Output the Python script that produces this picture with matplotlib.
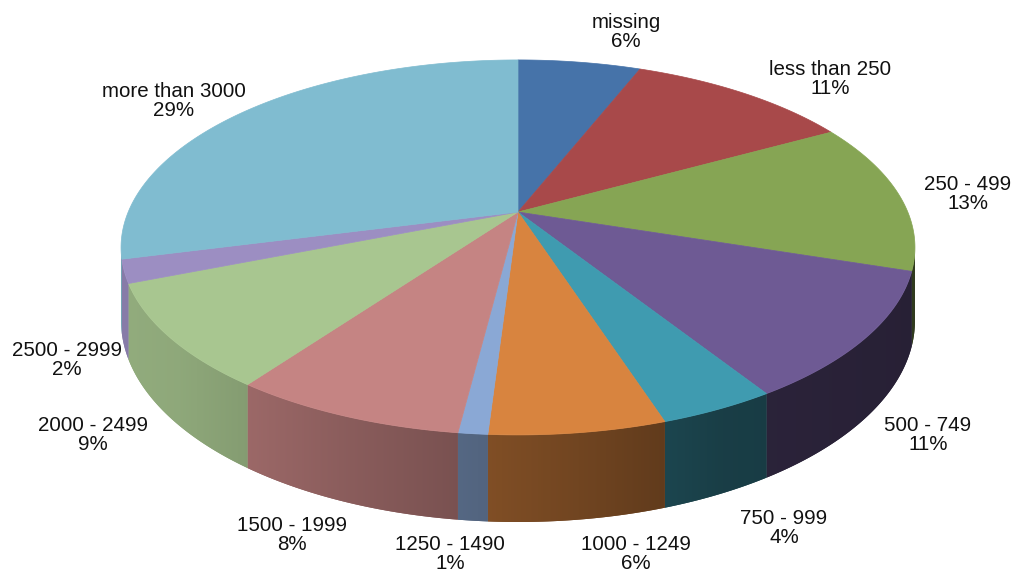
import numpy as np
import matplotlib
matplotlib.use("Agg")
import matplotlib.pyplot as plt
from matplotlib.patches import Polygon
import matplotlib.colors as mcolors

# ---------------- data ----------------
categories = ["missing", "less than 250", "250 - 499", "500 - 749", "750 - 999",
              "1000 - 1249", "1250 - 1490", "1500 - 1999", "2000 - 2499",
              "2500 - 2999", "more than 3000"]
values = [6, 11, 13, 11, 4, 6, 1, 8, 9, 2, 29]
colors = ["#4673A9", "#A8494A", "#86A554", "#6E5A94", "#3F9BB0", "#D8843F",
          "#8AA8D5", "#C58483", "#A8C690", "#9C8EC2", "#80BCD0"]

# label anchor positions (pixel layout)
label_pos = [(626, 32), (830, 79), (968, 194), (928, 435), (784, 528),
             (636, 554), (450, 554), (292, 535), (93, 435), (67, 360), (174, 101)]

# ---------------- layout ----------------
W, H = 1016, 573
fig = plt.figure(figsize=(W / 100, H / 100), dpi=100)
ax = fig.add_axes([0, 0, 1, 1])
ax.set_xlim(0, W)
ax.set_ylim(H, 0)
ax.axis("off")

CX, CY = 518, 212
A, B, K = 389.8, 180.8, 0.189
DEPTH = 70.6


def proj(theta, drop=0.0):
    u = np.sin(theta)
    v = np.cos(theta)
    w = 1 + K * v
    return CX + A * u / w, CY - B * v / w + drop / w


def shade_factor(x):
    s = (x - CX) / 400.0
    return np.interp(s, [-1, -0.85, -0.42, 0.13, 0.51, 1.0],
                     [0.87, 0.85, 0.70, 0.53, 0.40, 0.36])


total = float(sum(values))
edges = np.concatenate([[0], np.cumsum(values)]) / total * 2 * np.pi

th_lo = np.arccos(-K)
th_hi = 2 * np.pi - th_lo

# side walls (smooth horizontal shading, clipped to each wall polygon)
for i in range(len(values)):
    a0, a1 = max(edges[i], th_lo), min(edges[i + 1], th_hi)
    if a1 <= a0:
        continue
    ts = np.linspace(a0, a1, 200)
    xt, yt = proj(ts)
    xb, yb = proj(ts, DEPTH)
    pts = list(zip(xt, yt)) + list(zip(xb[::-1], yb[::-1]))
    base = np.array(mcolors.to_rgb(colors[i]))
    xmin, xmax = min(xt.min(), xb.min()) - 2, max(xt.max(), xb.max()) + 2
    ymin, ymax = min(yt.min(), yb.min()) - 2, max(yt.max(), yb.max()) + 2
    xs = np.linspace(xmin, xmax, 256)
    f = shade_factor(xs)
    img = np.clip(base[None, None, :] * f[None, :, None], 0, 1)
    img = np.repeat(img, 2, axis=0)
    mid_c = np.clip(base * shade_factor((xmin + xmax) / 2), 0, 1)
    poly = Polygon(pts, closed=True, facecolor=mid_c, edgecolor="none", lw=0)
    ax.add_patch(poly)
    im = ax.imshow(img, extent=(xmin, xmax, ymax, ymin), aspect="auto",
                   interpolation="bilinear", zorder=1.5)
    im.set_clip_path(poly)

# top faces
for i in range(len(values)):
    ts = np.linspace(edges[i], edges[i + 1],
                     max(3, int(np.degrees(edges[i + 1] - edges[i]) / 0.5) + 2))
    xs, ys = proj(ts)
    pts = [(CX, CY)] + list(zip(xs, ys))
    ax.add_patch(Polygon(pts, closed=True, facecolor=colors[i], edgecolor=colors[i],
                         lw=0.5, zorder=2))

ax.set_xlim(0, W)
ax.set_ylim(H, 0)

# labels
for cat, val, (lx, ly) in zip(categories, values, label_pos):
    ax.text(lx, ly, f"{cat}\n{val}%", ha="center", va="center", fontsize=14.8,
            family=["Liberation Sans", "DejaVu Sans"], color="#111111",
            linespacing=1.05, zorder=3)

fig.savefig("out.png", dpi=100)
